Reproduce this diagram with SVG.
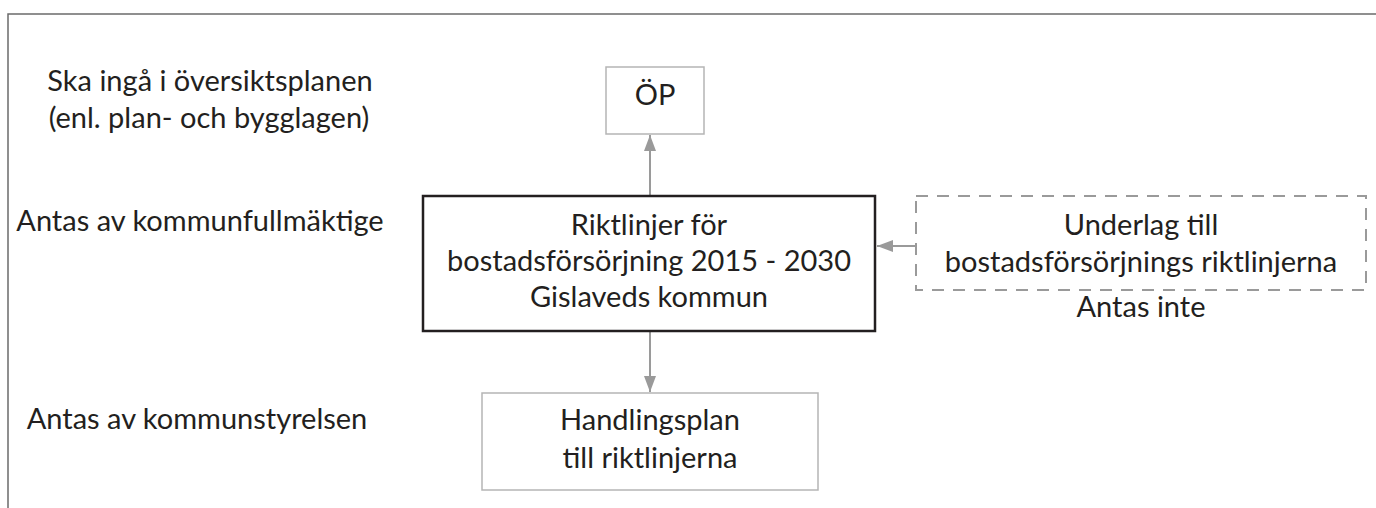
<svg xmlns="http://www.w3.org/2000/svg" width="1376" height="508" viewBox="0 0 1376 508">
<style>
text{font-family:Lato,"Open Sans","DejaVu Sans",sans-serif;font-size:29px;fill:#231f20}
.c{text-anchor:middle}
.lite{fill:#fff;stroke:#b5b5b5;stroke-width:1.5}
.main{fill:#fff;stroke:#231f20;stroke-width:2.5}
.dash{fill:#fff;stroke:#9a9a9a;stroke-width:2;stroke-dasharray:12 9}
.conn{stroke:#9a9a9a;stroke-width:2;fill:none}
</style>
<defs>
<marker id="ah" viewBox="0 0 16 12" refX="16" refY="6" markerWidth="16" markerHeight="12" markerUnits="userSpaceOnUse" orient="auto">
<path d="M0,0 L16,6 L0,12 Z" fill="#9a9a9a"/>
</marker>
</defs>
<rect width="1376" height="508" fill="#fff"/>
<path d="M8,508 V14 H1376" fill="none" stroke="#6b6b6b" stroke-width="1.5"/>
<g id="labels">
<text class="c" x="210" y="91">Ska ingå i översiktsplanen</text>
<text class="c" x="209" y="128">(enl. plan- och bygglagen)</text>
<text class="c" x="200" y="231">Antas av kommunfullmäktige</text>
<text class="c" x="197" y="429">Antas av kommunstyrelsen</text>
</g>
<g id="connectors">
<line class="conn" x1="650" y1="196" x2="650" y2="135" marker-end="url(#ah)"/>
<line class="conn" x1="916" y1="246" x2="877" y2="246" marker-end="url(#ah)"/>
<line class="conn" x1="650" y1="331" x2="650" y2="392" marker-end="url(#ah)"/>
</g>
<g id="op">
<rect class="lite" x="606" y="67" width="98" height="67"/>
<text class="c" x="655" y="105">ÖP</text>
</g>
<g id="riktlinjer">
<rect class="main" x="423" y="196" width="452" height="135"/>
<text class="c" x="649" y="235">Riktlinjer för</text>
<text class="c" x="649" y="271">bostadsförsörjning 2015 - 2030</text>
<text class="c" x="649" y="307">Gislaveds kommun</text>
</g>
<g id="underlag">
<rect class="dash" x="916" y="196" width="450" height="94"/>
<text class="c" x="1141" y="235">Underlag till</text>
<text class="c" x="1141" y="272">bostadsförsörjnings riktlinjerna</text>
<text class="c" x="1141" y="317">Antas inte</text>
</g>
<g id="handlingsplan">
<rect class="lite" x="482" y="393" width="336" height="97"/>
<text class="c" x="650" y="430">Handlingsplan</text>
<text class="c" x="650" y="468">till riktlinjerna</text>
</g>
</svg>
